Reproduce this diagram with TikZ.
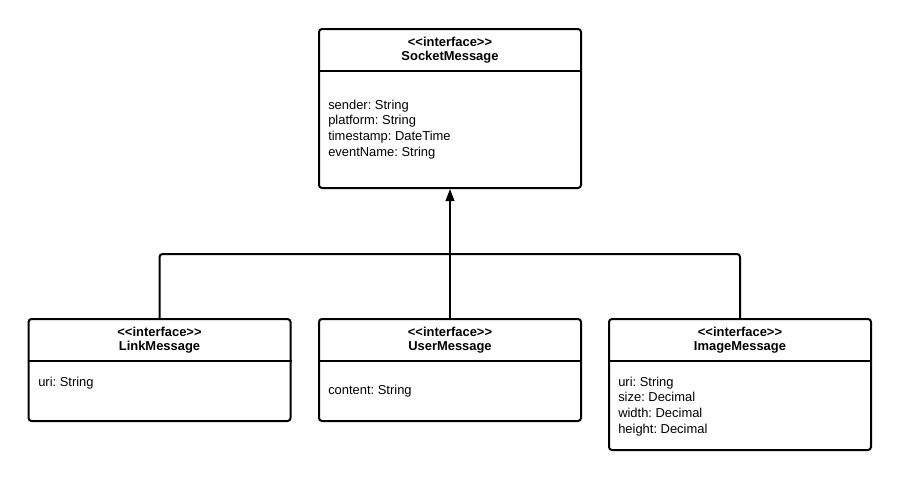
\documentclass[tikz,border=0pt]{standalone}
\usepackage{fontspec}
\setmainfont{Liberation Sans}[Ligatures=TeXOff]
\usetikzlibrary{arrows.meta}
\frenchspacing
\begin{document}
\begin{tikzpicture}[x=0.75pt,y=-0.75pt,
  umlbox/.style={draw=black, line width=1.5pt, rounded corners=2.25pt, rectangle, inner sep=0pt, minimum width=196.5pt, fill=white},
  divider/.style={draw=black, line width=1.5pt},
  conn/.style={draw=black, line width=1.5pt},
  txt/.style={inner sep=0pt, font=\fontsize{9.7}{11.7}\selectfont},
  hdr/.style={txt, anchor=base, font=\fontsize{9.7}{11.7}\selectfont\bfseries},
  attr/.style={txt, anchor=base west}
]
\useasboundingbox (0,0) rectangle (900,479);

% boxes
\node[umlbox, minimum height=119.25pt] (top) at (450,108.5) {};
\node[umlbox, minimum height=76.5pt] (link) at (159.5,370) {};
\node[umlbox, minimum height=76.5pt] (user) at (450,370) {};
\node[umlbox, minimum height=98.25pt] (image) at (740,384.5) {};

% dividers
\draw[divider] (top.west |- 0,71) -- (top.east |- 0,71);
\draw[divider] (link.west |- 0,361) -- (link.east |- 0,361);
\draw[divider] (user.west |- 0,361) -- (user.east |- 0,361);
\draw[divider] (image.west |- 0,361) -- (image.east |- 0,361);

% headers
\node[hdr] (topst) at (450,46.5) {<<interface>>};
\node[hdr] (topnm) at (450,60.5) {SocketMessage};
\node[hdr] (linkst) at (159.5,336.5) {<<interface>>};
\node[hdr] (linknm) at (159.5,350.5) {LinkMessage};
\node[hdr] (userst) at (450,336.5) {<<interface>>};
\node[hdr] (usernm) at (450,350.5) {UserMessage};
\node[hdr] (imgst) at (740,336.5) {<<interface>>};
\node[hdr] (imgnm) at (740,350.5) {ImageMessage};

% attributes
\node[attr] (ta1) at (328,109.3) {sender: String};
\node[attr] (ta2) at (328,124.9) {platform: String};
\node[attr] (ta3) at (328,140.5) {timestamp: DateTime};
\node[attr] (ta4) at (328,156.1) {eventName: String};
\node[attr] (la1) at (38,386.3) {uri: String};
\node[attr] (ua1) at (328,394.3) {content: String};
\node[attr] (ia1) at (618,386.3) {uri: String};
\node[attr] (ia2) at (618,401.9) {size: Decimal};
\node[attr] (ia3) at (618,417.5) {width: Decimal};
\node[attr] (ia4) at (618,433.1) {height: Decimal};

% connectors
\coordinate (j) at (450,254);
\draw[conn, rounded corners=2.25pt] (link.north) |- (j) -| (image.north);
\draw[conn, -{Triangle[length=9pt,width=6.5pt]}] (user.north) -- (top.south);
\end{tikzpicture}
\end{document}
